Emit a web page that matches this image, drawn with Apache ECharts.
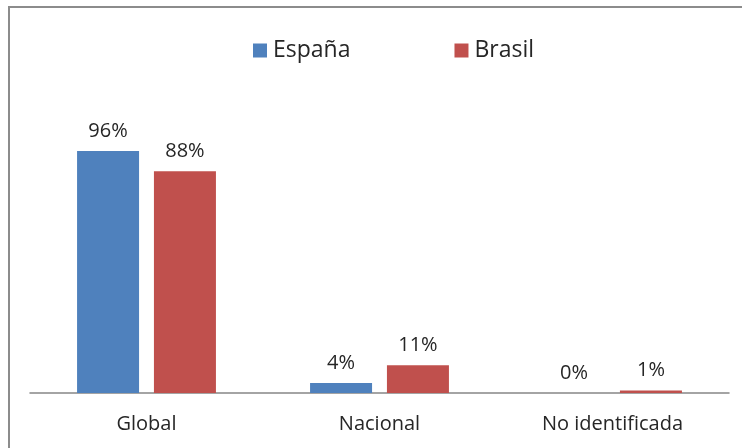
<!DOCTYPE html>
<html>
<head>
<meta charset="utf-8">
<script src="https://cdn.jsdelivr.net/npm/echarts@6/dist/echarts.min.js"></script>
<style>html,body{margin:0;padding:0;background:#fff}#c{width:742px;height:448px}</style>
</head>
<body>
<div id="c"></div>
<script>
const categories = ['Global', 'Nacional', 'No identificada'];
const espana = [96, 4, 0];
const brasil = [88, 11, 1];
const seriesNames = ['España', 'Brasil'];

const chart = echarts.init(document.getElementById('c'));
const font = '"Open Sans", "DejaVu Sans", sans-serif';
const labelCfg = {
  show: true, position: 'top', distance: 10,
  formatter: p => p.value + '%',
  color: '#262626', fontSize: 20, fontFamily: font
};
chart.setOption({
  animation: false,
  backgroundColor: '#fff',
  graphic: [{
    type: 'rect', silent: true,
    shape: { x: 9, y: 7, width: 760, height: 460 },
    style: { fill: 'none', stroke: '#8c8c8c', lineWidth: 2 }
  }],
  legend: {
    top: 34, left: 248,
    itemWidth: 14, itemHeight: 14, itemGap: 104,
    icon: 'rect',
    textStyle: { fontSize: 23, fontFamily: font, color: '#262626', padding: [0, 0, 0, 1] },
    data: seriesNames
  },
  grid: { left: 30, right: 13, top: 141, bottom: 55 },
  xAxis: {
    type: 'category', data: categories,
    axisLine: { lineStyle: { color: '#868686', width: 1.5 } },
    axisTick: { show: false },
    axisLabel: { color: '#262626', fontSize: 20, fontFamily: font, margin: 21 }
  },
  yAxis: { type: 'value', min: 0, max: 100, show: false, splitLine: { show: false } },
  series: [
    { name: seriesNames[0], type: 'bar', data: espana, barWidth: 62, barGap: '24%',
      itemStyle: { color: '#4F81BD' }, label: labelCfg },
    { name: seriesNames[1], type: 'bar', data: brasil, barWidth: 62, barGap: '24%',
      itemStyle: { color: '#C0504D' }, label: labelCfg }
  ]
});
</script>
</body>
</html>
